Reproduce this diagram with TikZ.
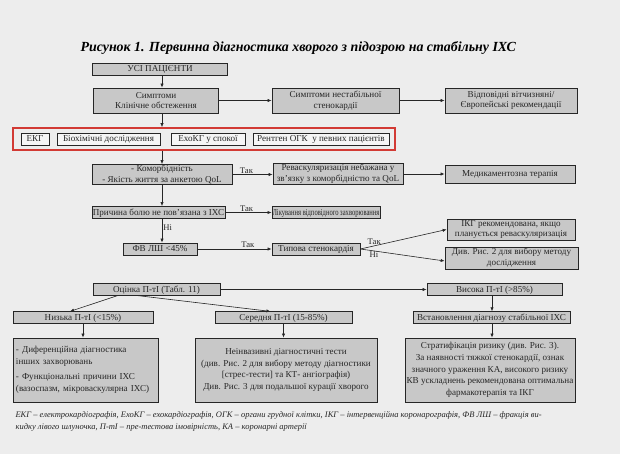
\documentclass[tikz,border=0pt]{standalone}
\usepackage{fontspec}
\usepackage{graphicx}
\setmainfont{Liberation Serif}
\usetikzlibrary{arrows.meta,shadows,calc}
\definecolor{pagebg}{HTML}{EDEDED}
\definecolor{boxfill}{HTML}{C8C8C8}
\definecolor{ink}{HTML}{262626}
\definecolor{redline}{HTML}{D23A34}
\begin{document}
\begin{tikzpicture}[x=1pt,y=-1pt,
  every node/.style={font=\fontsize{9.1}{11.5}\selectfont, text=ink},
  box/.style={draw=ink, line width=0.7pt, fill=boxfill, inner sep=0.6pt,
    drop shadow={shadow xshift=0.9pt,shadow yshift=-0.9pt,fill=black!55,opacity=1}},
  one/.style={text height=7.0pt, text depth=1.3pt},
  ml/.style={align=center, font=\fontsize{9.1}{10.8}\selectfont},
  big/.style={align=center, font=\fontsize{9.1}{11.6}\selectfont},
  wbox/.style={draw=ink, line width=0.5pt, fill=white!96!black, inner sep=0.6pt, minimum height=12pt, text height=7.0pt, text depth=1.3pt},
  arr/.style={draw=ink, line width=0.6pt, -{Latex[length=4pt,width=3.2pt]}},
  lbl/.style={font=\fontsize{8.6}{10}\selectfont, inner sep=1pt}]
\fill[pagebg] (0,0) rectangle (620,454);
\useasboundingbox (0,0) rectangle (620,454);

\node[font=\fontsize{13.9}{16}\selectfont\bfseries\itshape, anchor=west, text=black] (title) at (77,48)
  {Рисунок 1. Первинна діагностика хворого з підозрою на стабільну ІХС};

\coordinate (spine) at (162,0);
\coordinate (spineR) at (492,0);

\node[box, one, minimum width=135, minimum height=12] (all) at (160,69) {УСІ ПАЦІЄНТИ};
\node[box, ml, minimum width=125, minimum height=25] (symp) at (156,100.5) {Симптоми\\Клінічне обстеження};
\node[box, ml, minimum width=127, minimum height=25] (unst) at (335.5,100.5) {Симптоми нестабільної\\стенокардії};
\node[box, ml, minimum width=132, minimum height=25] (rec) at (511,100.5) {Відповідні вітчизняні/\\Європейські рекомендації};

\node[draw=redline, line width=1.6pt, minimum width=382, minimum height=22, inner sep=0] (frame) at (204,139) {};
\node[wbox, minimum width=28] (ecg) at (35,139) {ЕКГ};
\node[wbox, minimum width=103] (bio) at (108.5,139) {Біохімічні дослідження};
\node[wbox, minimum width=74] (echo) at (208,139) {ЕхоКГ у спокої};
\node[wbox, minimum width=136] (xray) at (321,139) {Рентген ОГК\ \ у певних пацієнтів};

\node[box, ml, minimum width=140, minimum height=20] (comorb) at (162,174.5) {- Коморбідність\\- Якість життя за анкетою QoL};
\node[box, ml, minimum width=130, minimum height=21] (reva) at (338,174) {Реваскуляризація небажана у\\зв'язку з коморбідністю та QoL};
\node[box, one, minimum width=130, minimum height=18] (med) at (510,174) {Медикаментозна терапія};

\node[box, one, minimum width=133, minimum height=12] (cause) at (158.5,212.5) {Причина болю не пов'язана з ІХС};
\node[box, one, minimum width=106, minimum height=12] (treat) at (326,212.5) {\scalebox{0.72}[1]{Лікування відповідного захворювання}};

\node[box, ml, minimum width=128, minimum height=21] (ikg) at (511,229.5) {ІКГ рекомендована, якщо\\планується реваскуляризація};
\node[box, one, minimum width=74, minimum height=12] (ef) at (160,249) {ФВ ЛШ <45\%};
\node[box, one, minimum width=88, minimum height=12] (typ) at (316,249) {Типова стенокардія};
\node[box, ml, minimum width=133, minimum height=22] (see2) at (511.5,258) {Див. Рис. 2 для вибору методу\\дослідження};

\node[box, one, minimum width=127, minimum height=11.5] (assess) at (156.5,289.5) {Оцінка П-тІ (Табл. 11)};
\node[box, one, minimum width=135, minimum height=11.5] (high) at (494.5,289.5) {Висока П-тІ (>85\%)};
\node[box, one, minimum width=140, minimum height=11.5] (low) at (83,317.5) {Низька П-тІ (<15\%)};
\node[box, one, minimum width=137, minimum height=11.5] (mid) at (283.5,317.5) {Середня П-тІ (15-85\%)};
\node[box, one, minimum width=157, minimum height=11.5] (est) at (491.5,317.5) {Встановлення діагнозу стабільної ІХС};

\node[box, minimum width=145, minimum height=64, text width=139, align=left, font=\fontsize{9.1}{11.6}\selectfont] (lowbig) at (85.5,370)
  {- Диференційна діагностика\\інших захворювань\\[4pt]- Функціональні причини ІХС\\(вазоспазм, мікроваскулярна ІХС)};
\node[box, big, minimum width=182, minimum height=64] (midbig) at (286,370)
  {Неінвазивні діагностичні тести\\(див. Рис. 2 для вибору методу діагностики\\{}[стрес-тести] та КТ- ангіографія)\\Див. Рис. 3 для подальшої курації хворого};
\node[box, big, minimum width=170, minimum height=64] (highbig) at (490,370)
  {Стратифікація ризику (див. Рис. 3).\\За наявності тяжкої стенокардії, ознак\\значного ураження КА, високого ризику\\КВ ускладнень рекомендована оптимальна\\фармакотерапія та ІКГ};

\node[anchor=north west, align=left, font=\fontsize{8.5}{11.5}\selectfont\itshape] (note) at (12,408)
  {ЕКГ – електрокардіографія, ЕхоКГ – ехокардіографія, ОГК – органи грудної клітки, ІКГ – інтервенційна коронарографія, ФВ ЛШ – фракція ви-\\кидку лівого шлуночка, П-тІ – пре-тестова імовірність, КА – коронарні артерії};

% connectors
\draw[arr] (all.south -| spine) -- (symp.north -| spine);
\draw[arr] (symp.south -| spine) -- (frame.north -| spine);
\draw[arr] (frame.south -| spine) -- (comorb.north -| spine);
\draw[arr] (comorb.south -| spine) -- (cause.north -| spine);
\draw[arr] (cause.south -| spine) -- node[lbl, right, pos=0.35]{Ні} (ef.north -| spine);
\draw[arr] (symp.east) -- (unst.west);
\draw[arr] (unst.east) -- (rec.west);
\draw[arr] (comorb.east) -- node[lbl, above, pos=0.35]{Так} (comorb.east -| reva.west);
\draw[arr] (reva.east) -- (reva.east -| med.west);
\draw[arr] (cause.east) -- node[lbl, above, pos=0.46]{Так} (cause.east -| treat.west);
\draw[arr] (ef.east) -- node[lbl, above, pos=0.68]{Так} (ef.east -| typ.west);
\draw[arr] (typ.east) -- node[lbl, above, pos=0.16]{Так} (ikg.west);
\draw[arr] (typ.east) -- node[lbl, below, pos=0.16]{Ні} ([yshift=-3pt]see2.west);
\draw[arr] ([xshift=25pt]assess.south west) -- ([xshift=-13pt]low.north);
\draw[arr] ([xshift=45pt]assess.south west) -- ([xshift=-13pt]mid.north);
\draw[arr] (assess.east) -- (assess.east -| high.west);
\draw[arr] (high.south -| spineR) -- (est.north -| spineR);
\draw[arr] (est.south -| spineR) -- (highbig.north -| spineR);
\draw[arr] (mid.south) -- (mid.south |- midbig.north);
\draw[arr] (low.south) -- (low.south |- lowbig.north);
\end{tikzpicture}
\end{document}
